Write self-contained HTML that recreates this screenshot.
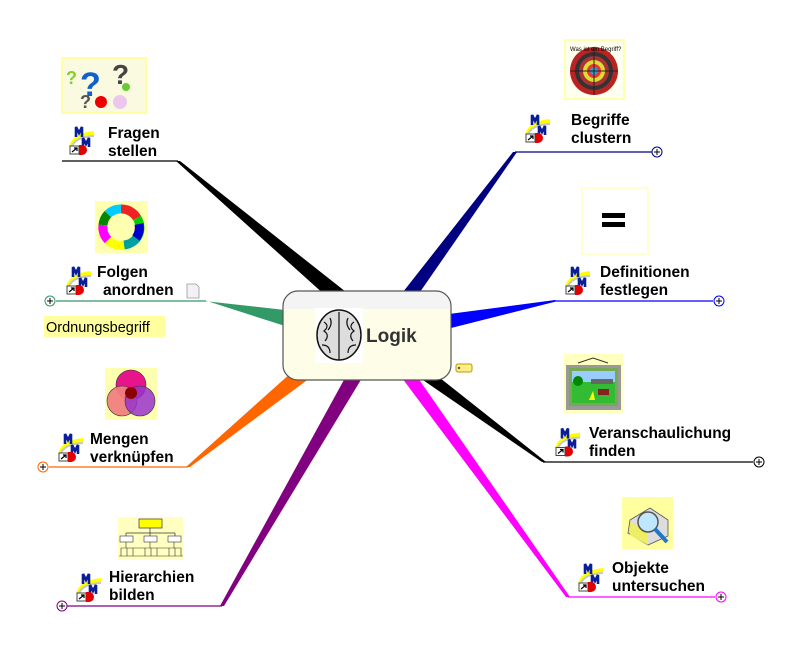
<!DOCTYPE html>
<html><head><meta charset="utf-8"><style>
html,body{margin:0;padding:0;background:#fff;}
svg{display:block;}
text{font-family:"Liberation Sans",sans-serif;}
.t{font-size:15.5px;font-weight:bold;fill:#000;}
</style></head><body>
<svg width="803" height="652" viewBox="0 0 803 652" xmlns="http://www.w3.org/2000/svg">
<defs>
<symbol id="mm" viewBox="0 0 28 30">
<path d="M3 22 Q6 10 26 8" stroke="#ffff00" stroke-width="4" fill="none"/>
<path d="M4 21 Q8 12 26 11" stroke="#c8c8c8" stroke-width="2" fill="none"/>
<path d="M8 12 L8 2 L11 8 L14 2 L14 12" stroke="#0a1e96" stroke-width="2.6" fill="none"/>
<path d="M15 22 L15 13 L18 19 L21 13 L21 22" stroke="#0a1e96" stroke-width="2.6" fill="none"/>
<rect x="2" y="21" width="9" height="8" fill="#fff" stroke="#444" stroke-width="1"/>
<path d="M4 27 L9 23 M6 23 L9 23 L9 26" stroke="#000" stroke-width="1.2" fill="none"/>
<path d="M11 20 L14 20 A5 5 0 0 1 14 30 L11 30 Z" fill="#e00000"/>
</symbol>
<symbol id="plus" viewBox="0 0 12 12">
<circle cx="6" cy="6" r="5" fill="#fff" stroke="currentColor" stroke-width="1"/>
<path d="M3 6 H9 M6 3 V9" stroke="#000" stroke-width="1"/>
</symbol>
</defs>

<polygon points="326,296 346,292 180,161 176,161" fill="#000"/>
<polyline points="62,161 178,161" stroke="#000" stroke-width="1.2" fill="none"/>

<polygon points="285,310 285,326 207,301 204,301" fill="#339966"/>
<polyline points="56,301 206,301" stroke="#339966" stroke-width="1.2" fill="none"/>

<polygon points="292,372 310,378 190,467 186,467" fill="#ff6600"/>
<polyline points="49,467 188,467" stroke="#ff6600" stroke-width="1.2" fill="none"/>

<polygon points="345,378 362,378 224,606 220,606" fill="#800080"/>
<polyline points="67,606 222,606" stroke="#800080" stroke-width="1.2" fill="none"/>

<polygon points="403,292 420,292 517,152 513,152" fill="#000080"/>
<polyline points="515,152 652,152" stroke="#000080" stroke-width="1.2" fill="none"/>

<polygon points="449,314 451,328 558,301 555,300" fill="#0000ff"/>
<polyline points="556,301 713,301" stroke="#0000ff" stroke-width="1.2" fill="none"/>

<polygon points="420,378 440,378 546,462 542,462" fill="#000"/>
<polyline points="543,462 753,462" stroke="#000" stroke-width="1.2" fill="none"/>

<polygon points="402,378 418,378 570,597 566,597" fill="#ff00ff"/>
<polyline points="568,597 715,597" stroke="#ff00ff" stroke-width="1.2" fill="none"/>

<use href="#plus" x="44" y="295" width="12" height="12" color="#339966"/>
<use href="#plus" x="37" y="461" width="12" height="12" color="#ff6600"/>
<use href="#plus" x="56" y="600" width="12" height="12" color="#800080"/>
<use href="#plus" x="651" y="146" width="12" height="12" color="#000080"/>
<use href="#plus" x="713" y="295" width="12" height="12" color="#0000ff"/>
<use href="#plus" x="753" y="456" width="12" height="12" color="#000"/>
<use href="#plus" x="715" y="591" width="12" height="12" color="#ff00ff"/>

<rect x="283" y="291" width="168" height="89" rx="15" fill="#fefee8" stroke="#555" stroke-width="1.2"/>
<path d="M284 309 V305 A14 14 0 0 1 298 292 H436 A14 14 0 0 1 450 305 V309 Z" fill="#f4f4f4"/>
<rect x="315" y="308" width="48" height="55" fill="#fff"/>
<ellipse cx="339" cy="335" rx="22" ry="25" fill="#ddd" stroke="#111" stroke-width="1.5"/>
<path d="M339 312 V360 M324 322 q6 4 0 9 q6 4 1 10 M354 322 q-6 4 0 9 q-6 4 -1 10 M330 318 q3 6 -2 12 M348 318 q-3 6 2 12 M322 345 q8 0 8 8 M356 345 q-8 0 -8 8" stroke="#111" stroke-width="1.2" fill="none"/>
<text x="366" y="342" style="font-size:19px;font-weight:bold;fill:#333">Logik</text>
<rect x="456" y="364" width="16" height="8" rx="2" fill="#ffee88" stroke="#b89a00" stroke-width="1"/>
<circle cx="459" cy="368" r="1.2" fill="#555"/>

<rect x="62" y="58" width="84" height="55" fill="#fafae0" stroke="#ffffa0" stroke-width="2"/>
<text x="80" y="96" style="font-size:34px;font-weight:bold;fill:#1060d0">?</text>
<text x="112" y="84" style="font-size:28px;font-weight:bold;fill:#444">?</text>
<text x="66" y="84" style="font-size:18px;font-weight:bold;fill:#8c3">?</text>
<text x="80" y="108" style="font-size:18px;font-weight:bold;fill:#555">?</text>
<circle cx="101" cy="102" r="6" fill="#e00"/>
<circle cx="120" cy="102" r="7" fill="#ecc8ec"/>
<circle cx="126" cy="87" r="4" fill="#6c3"/>
<use href="#mm" x="68" y="125" width="28" height="30"/>
<text class="t" x="108" y="138">Fragen</text>
<text class="t" x="108" y="156">stellen</text>

<rect x="95" y="201" width="53" height="52" fill="#ffffb0"/>
<path d="M121 209 A18 18 0 0 1 137 218" stroke="#e22" stroke-width="9" fill="none"/>
<path d="M137 218 A18 18 0 0 1 138 236" stroke="#0c0" stroke-width="9" fill="none"/>
<path d="M138 236 A18 18 0 0 1 124 245" stroke="#00a0a0" stroke-width="9" fill="none"/>
<path d="M124 245 A18 18 0 0 1 108 240" stroke="#ff0" stroke-width="9" fill="none"/>
<path d="M108 240 A18 18 0 0 1 103 225" stroke="#f0f" stroke-width="9" fill="none"/>
<path d="M103 225 A18 18 0 0 1 108 214" stroke="#080" stroke-width="9" fill="none"/>
<path d="M108 214 A18 18 0 0 1 121 209" stroke="#0cf" stroke-width="9" fill="none"/>
<path d="M139 224 A18 18 0 0 1 136 238" stroke="#00c" stroke-width="9" fill="none"/>
<use href="#mm" x="65" y="265" width="28" height="30"/>
<text class="t" x="97" y="277">Folgen</text>
<text class="t" x="103" y="295">anordnen</text>
<path d="M187 284 H196 L199 287 V298 H187 Z" fill="#f4f0f8" stroke="#999" stroke-width="0.8"/>
<rect x="44" y="316" width="121" height="21" fill="#ffffa0"/>
<text x="46" y="332" style="font-size:14.5px;fill:#000">Ordnungsbegriff</text>

<rect x="105" y="368" width="52" height="52" fill="#ffffb0"/>
<circle cx="131" cy="385" r="15" fill="#e8148c" stroke="#333" stroke-width="0.6"/>
<circle cx="122" cy="401" r="15" fill="#f08080" fill-opacity="0.95" stroke="#333" stroke-width="0.6"/>
<circle cx="140" cy="401" r="15" fill="#9933cc" fill-opacity="0.85" stroke="#333" stroke-width="0.6"/>
<circle cx="131" cy="393" r="6" fill="#8b0000"/>
<use href="#mm" x="57" y="432" width="28" height="30"/>
<text class="t" x="90" y="444">Mengen</text>
<text class="t" x="90" y="462">verknüpfen</text>

<rect x="118" y="517" width="65" height="43" fill="#ffffc0"/>
<rect x="139" y="519" width="23" height="9" fill="#ff0" stroke="#333" stroke-width="0.7"/>
<path d="M150 528 V533 M126 533 H175 M126 533 V536 M150 533 V536 M175 533 V536" stroke="#333" stroke-width="0.7"/>
<rect x="120" y="536" width="13" height="6" fill="#fff" stroke="#333" stroke-width="0.6"/>
<rect x="144" y="536" width="13" height="6" fill="#fff" stroke="#333" stroke-width="0.6"/>
<rect x="168" y="536" width="13" height="6" fill="#fff" stroke="#333" stroke-width="0.6"/>
<path d="M121 548 H181 M121 548 V556 M127 548 V556 M133 548 V556 M145 548 V556 M151 548 V556 M157 548 V556 M169 548 V556 M175 548 V556 M181 548 V556 M126 542 V548 M150 542 V548 M174 542 V548 M119 556 H183" stroke="#333" stroke-width="0.6" fill="none"/>
<use href="#mm" x="75" y="572" width="28" height="30"/>
<text class="t" x="109" y="582">Hierarchien</text>
<text class="t" x="109" y="600">bilden</text>

<rect x="565" y="40" width="59" height="59" fill="#fffff0" stroke="#ffffb0" stroke-width="2"/>
<circle cx="594" cy="71" r="24" fill="#b22"/>
<circle cx="594" cy="71" r="19" fill="#333"/>
<circle cx="594" cy="71" r="15" fill="#a33"/>
<circle cx="594" cy="71" r="11" fill="#dd3"/>
<circle cx="594" cy="71" r="7" fill="#e33"/>
<circle cx="594" cy="71" r="4" fill="#39c"/>
<path d="M570 71 H618 M594 47 V95" stroke="#222" stroke-width="1"/>
<text x="570" y="51" style="font-size:6px;fill:#000">Was ist ein Begriff?</text>
<use href="#mm" x="524" y="112" width="28" height="32"/>
<text class="t" x="571" y="125">Begriffe</text>
<text class="t" x="571" y="143">clustern</text>

<rect x="582" y="188" width="66" height="66" fill="#fff" stroke="#ffffc0" stroke-width="1.5"/>
<rect x="602" y="213" width="23" height="5" fill="#000"/>
<rect x="602" y="222" width="23" height="5" fill="#000"/>
<use href="#mm" x="564" y="265" width="28" height="30"/>
<text class="t" x="600" y="277">Definitionen</text>
<text class="t" x="600" y="295">festlegen</text>

<rect x="564" y="354" width="59" height="59" fill="#ffffc0"/>
<rect x="566" y="365" width="55" height="45" fill="#999"/>
<path d="M578 363 L593 358 L608 363" stroke="#333" fill="none"/>
<rect x="569" y="368" width="49" height="38" fill="#7a5"/>
<rect x="572" y="371" width="43" height="32" fill="#3b3"/>
<rect x="572" y="371" width="43" height="11" fill="#9cf"/>
<rect x="591" y="379" width="22" height="5" fill="#666"/>
<circle cx="578" cy="381" r="5" fill="#080"/>
<rect x="598" y="389" width="11" height="6" fill="#822"/>
<path d="M589 400 L593 391 L595 400 Z" fill="#ff0"/>
<use href="#mm" x="554" y="425" width="28" height="33"/>
<text class="t" x="589" y="438">Veranschaulichung</text>
<text class="t" x="589" y="456">finden</text>

<rect x="622" y="497" width="51" height="52" fill="#ffffa0"/>
<path d="M630 520 L650 508 L668 520 L668 536 L648 545 L628 533 Z" fill="#ddd" stroke="#555" stroke-width="0.8"/>
<path d="M630 522 L648 532 L648 545 L630 535 Z" fill="#ee6"/>
<circle cx="648" cy="522" r="10" fill="#bfe8ff" stroke="#555" stroke-width="1.5"/>
<path d="M655 529 L667 542" stroke="#2277cc" stroke-width="4"/>
<use href="#mm" x="577" y="562" width="28" height="30"/>
<text class="t" x="612" y="573">Objekte</text>
<text class="t" x="612" y="591">untersuchen</text>
</svg>
</body></html>
